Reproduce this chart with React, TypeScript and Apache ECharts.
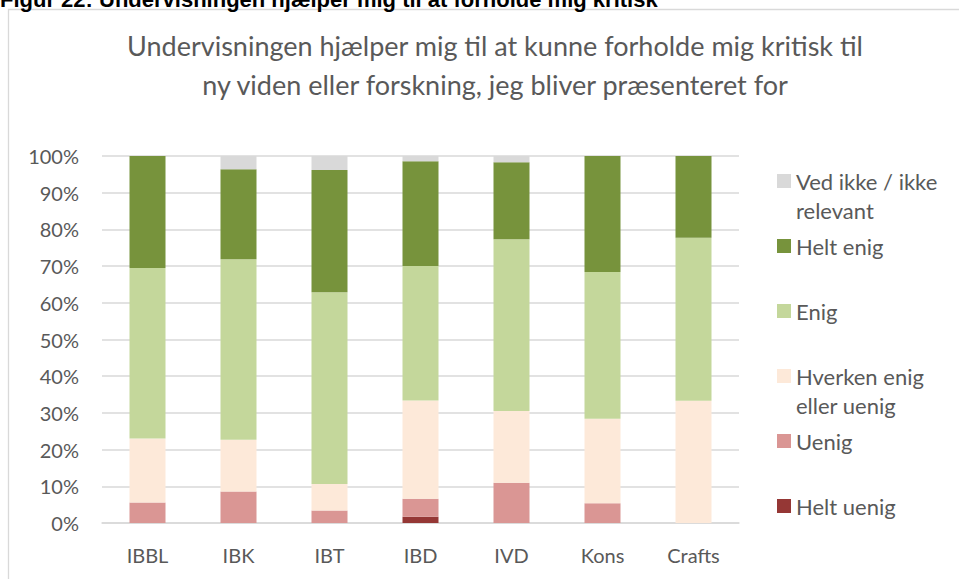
import React, { useEffect, useRef } from "react";
import * as echarts from "echarts";

const categories = ["IBBL", "IBK", "IBT", "IBD", "IVD", "Kons", "Crafts"];
const heltUenig = [0, 0, 0, 1.7, 0, 0, 0];
const uenig = [5.6, 8.6, 3.4, 4.9, 11.0, 5.4, 0];
const hverken = [17.4, 14.1, 7.2, 26.8, 19.5, 23.0, 33.3];
const enig = [46.5, 49.2, 52.3, 36.6, 46.8, 40.0, 44.4];
const heltEnig = [30.5, 24.5, 33.3, 28.6, 21.0, 31.6, 22.3];
const vedIkke = [0, 3.6, 3.8, 1.4, 1.7, 0, 0];

const seriesNames = [
  "Helt uenig",
  "Uenig",
  "Hverken enig eller uenig",
  "Enig",
  "Helt enig",
  "Ved ikke / ikke relevant",
];
const seriesData = [heltUenig, uenig, hverken, enig, heltEnig, vedIkke];
const seriesColors = ["#953735", "#da9694", "#fde9d9", "#c4d79b", "#77933c", "#d9d9d9"];
const legendLabels: Record<string, string> = {
  "Ved ikke / ikke relevant": "Ved ikke / ikke\nrelevant",
  "Helt enig": "Helt enig",
  Enig: "Enig",
  "Hverken enig eller uenig": "Hverken enig\neller uenig",
  Uenig: "Uenig",
  "Helt uenig": "Helt uenig",
};
const legendOrder = [
  "Ved ikke / ikke relevant",
  "Helt enig",
  "Enig",
  "Hverken enig eller uenig",
  "Uenig",
  "Helt uenig",
];
const yTicks = [0, 10, 20, 30, 40, 50, 60, 70, 80, 90, 100];

const title = "Undervisningen hjælper mig til at kunne forholde mig kritisk til\nny viden eller forskning, jeg bliver præsenteret for";
const header = "Figur 22: Undervisningen hjælper mig til at forholde mig kritisk";

const FONT = "Lato, 'Open Sans', sans-serif";
const GREY = "#595959";

export default function App() {
  const ref = useRef<HTMLDivElement>(null);
  useEffect(() => {
    document.body.style.margin = "0";
    if (!ref.current) return;
    const chart = echarts.init(ref.current, undefined, { renderer: "svg" });
    const lineH = 29;
    const legends = legendOrder.map((name, i) => {
      const c = 181 + i * 65;
      const twoLine = legendLabels[name].includes("\n");
      return {
        show: true,
        left: 777,
        top: twoLine ? c - 1.5 * lineH : c - lineH / 2,
        padding: 0,
        orient: "vertical",
        itemWidth: 14,
        itemHeight: 14,
        selectedMode: false,
        icon: "rect",
        data: [name],
        formatter: (n: string) => (twoLine ? " \n" : "") + legendLabels[n],
        textStyle: {
          color: GREY,
          fontFamily: FONT,
          fontSize: 22,
          lineHeight: lineH,
        },
      };
    });
    chart.setOption({
      animation: false,
      backgroundColor: "#ffffff",
      title: {
        text: title,
        left: 490,
        textAlign: "center",
        top: 21,
        textStyle: {
          color: GREY,
          fontFamily: FONT,
          fontSize: 27,
          fontWeight: "normal",
          lineHeight: 39,
        },
      },
      legend: legends,
      grid: { left: 102, right: 220, top: 156, bottom: 56 },
      xAxis: {
        type: "category",
        data: categories,
        axisLine: { lineStyle: { color: "#d9d9d9", width: 1.5 } },
        axisTick: { show: false },
        axisLabel: { color: GREY, fontFamily: FONT, fontSize: 20, margin: 22 },
      },
      yAxis: {
        type: "value",
        min: yTicks[0],
        max: yTicks[yTicks.length - 1],
        interval: 10,
        axisLine: { show: false },
        axisTick: { show: false },
        splitLine: { lineStyle: { color: "#d9d9d9", width: 1.5 } },
        axisLabel: {
          color: GREY,
          fontFamily: FONT,
          fontSize: 20,
          margin: 23,
          formatter: "{value}%",
        },
      },
      graphic: [
        {
          type: "rect",
          shape: { x: 8.5, y: 9.5, width: 970, height: 600 },
          style: { fill: "none", stroke: "#d9d9d9", lineWidth: 1.3 },
          silent: true,
        },
        {
          type: "text",
          x: 0,
          y: 10,
          style: {
            text: header,
            fill: "#000000",
            font: "bold 22px 'Liberation Sans', Arial, sans-serif",
            verticalAlign: "bottom",
          },
          silent: true,
        },
      ],
      series: seriesNames.map((name, i) => ({
        name,
        type: "bar",
        stack: "total",
        barWidth: 36,
        data: seriesData[i],
        itemStyle: { color: seriesColors[i] },
      })),
    });
    return () => chart.dispose();
  }, []);
  return <div ref={ref} style={{ width: 959, height: 579 }} />;
}
